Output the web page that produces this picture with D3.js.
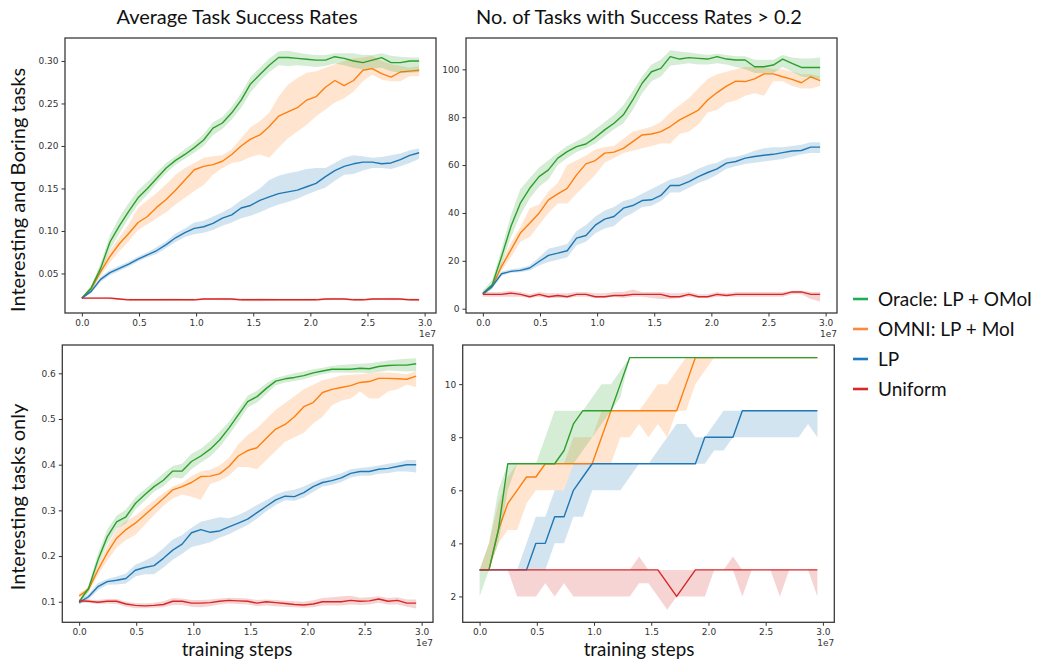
<!DOCTYPE html>
<html><head><meta charset="utf-8">
<script src="https://cdn.jsdelivr.net/npm/d3@7"></script>
<style>body{margin:0;background:#fff;} svg{display:block;}</style>
</head><body><svg id="c" width="1039" height="660"></svg>
<script>
// ---------- DATA ----------
const steps = [0,820000,1640000,2460000,3280000,4100000,4920000,5740000,6560000,7380000,8200000,9020000,9840000,10660000,11480000,12300000,13120000,13940000,14760000,15580000,16400000,17220000,18040000,18860000,19680000,20500000,21320000,22140000,22960000,23780000,24600000,25420000,26240000,27060000,27880000,28700000,29520000];
const seriesNames = ["Oracle: LP + OMoI","OMNI: LP + MoI","LP","Uniform"];
const seriesColors = ["#2ca02c","#ff7f0e","#1f77b4","#d62728"];
const legendColors = ["#1fae55","#fb8a3c","#1f7ac0","#d42a2a"];
const panelTitles = ["Average Task Success Rates","No. of Tasks with Success Rates > 0.2"];
const rowLabels = ["Interesting and Boring tasks","Interesting tasks only"];
const xLabel = "training steps";
const xTickValues = [0,5000000,10000000,15000000,20000000,25000000,30000000];
const xTickLabels = ["0.0","0.5","1.0","1.5","2.0","2.5","3.0"];
const xOffsetLabel = "1e7";

// Top-left: average success rate, interesting + boring tasks
const tlOracle   = [0.021,0.033,0.056,0.087,0.106,0.123,0.139,0.150,0.162,0.174,0.183,0.190,0.198,0.207,0.221,0.227,0.239,0.254,0.273,0.284,0.295,0.304,0.304,0.303,0.302,0.301,0.301,0.305,0.303,0.300,0.298,0.301,0.304,0.298,0.298,0.300,0.300];
const tlOracleLo = [0.020,0.030,0.050,0.078,0.097,0.115,0.131,0.143,0.156,0.168,0.178,0.185,0.192,0.200,0.213,0.220,0.231,0.245,0.263,0.276,0.287,0.295,0.294,0.295,0.294,0.293,0.294,0.297,0.295,0.292,0.290,0.291,0.292,0.288,0.286,0.286,0.287];
const tlOracleHi = [0.022,0.036,0.062,0.095,0.116,0.133,0.148,0.158,0.169,0.180,0.188,0.196,0.204,0.214,0.228,0.234,0.246,0.262,0.281,0.292,0.303,0.311,0.312,0.310,0.308,0.307,0.307,0.309,0.309,0.309,0.307,0.307,0.309,0.306,0.305,0.304,0.304];
const tlOmni     = [0.021,0.032,0.052,0.070,0.085,0.097,0.110,0.117,0.128,0.137,0.148,0.160,0.172,0.176,0.178,0.182,0.190,0.200,0.208,0.213,0.223,0.235,0.240,0.245,0.254,0.258,0.269,0.277,0.271,0.277,0.289,0.291,0.285,0.281,0.287,0.288,0.289];
const tlOmniLo   = [0.020,0.029,0.047,0.063,0.076,0.088,0.101,0.108,0.115,0.122,0.131,0.139,0.147,0.154,0.166,0.174,0.180,0.182,0.187,0.190,0.186,0.198,0.209,0.217,0.225,0.235,0.243,0.251,0.256,0.264,0.276,0.284,0.278,0.276,0.276,0.282,0.282];
const tlOmniHi   = [0.022,0.035,0.057,0.077,0.093,0.108,0.127,0.136,0.145,0.155,0.166,0.174,0.180,0.186,0.188,0.189,0.196,0.209,0.222,0.229,0.239,0.258,0.272,0.280,0.286,0.288,0.292,0.296,0.300,0.303,0.304,0.306,0.300,0.296,0.294,0.292,0.294];
const tlLP       = [0.021,0.029,0.043,0.051,0.056,0.061,0.067,0.072,0.077,0.084,0.092,0.098,0.103,0.105,0.109,0.115,0.119,0.127,0.130,0.136,0.140,0.144,0.146,0.148,0.152,0.156,0.164,0.171,0.176,0.179,0.181,0.181,0.179,0.180,0.184,0.189,0.192];
const tlLPLo     = [0.020,0.027,0.040,0.048,0.053,0.058,0.064,0.069,0.073,0.080,0.087,0.093,0.096,0.098,0.101,0.106,0.110,0.115,0.118,0.122,0.127,0.131,0.134,0.138,0.143,0.147,0.151,0.159,0.166,0.167,0.171,0.174,0.174,0.173,0.176,0.180,0.185];
const tlLPHi     = [0.022,0.031,0.046,0.054,0.059,0.064,0.070,0.075,0.081,0.088,0.097,0.103,0.110,0.112,0.117,0.122,0.128,0.136,0.143,0.150,0.160,0.165,0.168,0.170,0.173,0.174,0.174,0.180,0.186,0.189,0.188,0.186,0.187,0.189,0.191,0.195,0.197];
const tlUni      = [0.021,0.021,0.021,0.021,0.020,0.019,0.019,0.019,0.019,0.019,0.019,0.019,0.019,0.020,0.020,0.020,0.020,0.019,0.019,0.019,0.019,0.019,0.019,0.019,0.019,0.019,0.020,0.020,0.020,0.019,0.019,0.020,0.020,0.020,0.020,0.019,0.019];
const tlUniLo    = [0.0200,0.0200,0.0200,0.0198,0.0188,0.0178,0.0178,0.0178,0.0178,0.0178,0.0178,0.0178,0.0178,0.0188,0.0188,0.0185,0.0185,0.0175,0.0172,0.0172,0.0175,0.0178,0.0178,0.0178,0.0178,0.0178,0.0185,0.0188,0.0188,0.0178,0.0178,0.0185,0.0188,0.0185,0.0185,0.0175,0.0172];
const tlUniHi    = [0.0220,0.0220,0.0220,0.0222,0.0212,0.0202,0.0202,0.0202,0.0202,0.0205,0.0205,0.0202,0.0202,0.0212,0.0212,0.0215,0.0212,0.0205,0.0205,0.0208,0.0205,0.0202,0.0202,0.0202,0.0202,0.0205,0.0212,0.0215,0.0215,0.0205,0.0205,0.0212,0.0212,0.0215,0.0212,0.0205,0.0205];

// Top-right: number of tasks with success > 0.2, interesting + boring
const trOracle   = [6.3,10,21.8,34.4,44.1,50.3,55.2,58,62.9,65.6,67.7,68.8,71.5,74.7,77.5,81,87.2,94.2,99,100.4,105.3,104.3,104.9,104.6,104.3,105.3,104.3,103.9,103.9,101.1,101.1,101.8,104.3,102.5,100.8,100.8,100.8];
const trOracleLo = [5.5,8.5,18.5,30,39,46,51,54,60,63,65.5,67,69,72,75,77.5,83,90,95,97,101.5,102,102.5,102,102,102.5,102,101,100,98.5,98.5,98.5,101,99,97,96.5,96];
const trOracleHi = [7.5,12,25,39,50,54.5,59,62,65,68,70,72,75,78,81,85,91,97,102,104,108,107.5,107,106.5,106,106.5,106,105.5,105.5,104,104,104,106,105,104.5,104.5,105];
const trOmni     = [6.3,9.3,17.7,24.6,31.6,35.7,39.9,45.5,48,50.3,55.9,60.5,61.9,65,65.4,67,69.8,72.6,73,74,76.1,78.9,80.9,83,87.2,90.3,93,95.1,94.9,96,98.1,98.1,96.9,95.8,94.4,96.9,95.3];
const trOmniLo   = [5.5,8.5,16,21.5,28,30,35,40,44,44,48,52,56,61,63,65,66,67,68,69,69,73,74,77,82,83,86,87,89,90,89,95,95,93,92,92,93];
const trOmniHi   = [7,10,19.5,27.5,34,42,43.5,49,52.5,60,62,64,66.5,67.5,68,71,74,75,76,78,82,85,88,92,96,98,99,100,101,101,101,100,100,99,98,98,97];
const trLP       = [6.3,9.3,14.6,15.6,16,17,19.7,22.3,23.2,24.2,29.5,30.6,34.9,37.4,38.5,42,43.1,45.2,45.5,47.3,51.5,51.5,53.1,55.2,56.9,58.4,60.8,61.5,62.9,63.6,64.1,64.5,65.2,65.9,66.1,67.5,67.5];
const trLPLo     = [5.5,8.3,13.8,15,15.2,16,18,19.5,20.5,21.5,26.5,28,31.5,33.5,34.5,38,40,42.5,43,45,48.5,48.5,50.5,52.5,54,56,58.5,59.5,60.5,61,61.5,62,62.5,63.5,64.5,65,65];
const trLPHi     = [7,10.5,15.5,16.5,17,18,21.5,25,26,27,32.5,35,38.5,41,42.5,45,46,48,50,52,54,55,56.5,58.5,60,61,63,63.5,64.5,66,67,67.5,67.5,68,68.5,69.5,69.5];
const trUni      = [6,6,6,6.5,6,5,6,5,5.5,5,6,6,5,5,5.5,5.5,6,6,6,6,5,5,6,5,5,6,5.5,6,6,6,6,6,6,7,7,6,6];
const trUniLo    = [5,5,5,5,5,4.5,5,4.5,4.5,4.5,5,5,4.5,4.5,5,4.5,5,5,4.5,4,4,4.5,5,4.5,4.5,5,5,5,5,5,5,5,5,6,6,4,3];
const trUniHi    = [7,7,7,7.5,7,6,7,6.5,6.5,6.5,7,7,6.5,6.5,7,7,8,7,7,7,6.5,6.5,7,6,6,7,6.5,7,7,7,7,7,7,7.5,7.5,7,7];

// Bottom-left: average success rate, interesting tasks only
const blOracle   = [0.100,0.129,0.191,0.242,0.275,0.286,0.315,0.334,0.352,0.366,0.386,0.386,0.407,0.419,0.434,0.454,0.480,0.509,0.538,0.549,0.567,0.583,0.588,0.591,0.595,0.601,0.605,0.609,0.609,0.609,0.611,0.610,0.615,0.617,0.618,0.618,0.621];
const blOracleLo = [0.095,0.121,0.178,0.226,0.260,0.271,0.302,0.321,0.341,0.353,0.372,0.370,0.390,0.405,0.418,0.438,0.465,0.494,0.525,0.536,0.555,0.574,0.580,0.583,0.587,0.593,0.598,0.602,0.602,0.601,0.602,0.600,0.603,0.606,0.605,0.604,0.605];
const blOracleHi = [0.105,0.135,0.205,0.258,0.288,0.302,0.328,0.346,0.363,0.381,0.397,0.402,0.424,0.435,0.452,0.472,0.494,0.522,0.551,0.562,0.578,0.590,0.595,0.600,0.604,0.609,0.612,0.616,0.618,0.620,0.621,0.622,0.625,0.628,0.630,0.632,0.633];
const blOmni     = [0.113,0.127,0.169,0.207,0.239,0.258,0.272,0.290,0.308,0.326,0.345,0.352,0.361,0.374,0.375,0.380,0.396,0.419,0.431,0.437,0.458,0.478,0.488,0.505,0.527,0.536,0.558,0.565,0.569,0.573,0.580,0.582,0.589,0.589,0.588,0.587,0.594];
const blOmniLo   = [0.108,0.120,0.158,0.190,0.218,0.235,0.246,0.268,0.290,0.310,0.326,0.335,0.330,0.323,0.358,0.365,0.376,0.395,0.395,0.390,0.410,0.430,0.450,0.460,0.470,0.490,0.505,0.530,0.540,0.545,0.560,0.545,0.545,0.560,0.565,0.575,0.570];
const blOmniHi   = [0.118,0.133,0.180,0.222,0.258,0.276,0.288,0.305,0.322,0.338,0.352,0.360,0.375,0.385,0.389,0.398,0.415,0.445,0.465,0.480,0.500,0.520,0.535,0.550,0.565,0.575,0.585,0.590,0.595,0.597,0.598,0.600,0.602,0.602,0.600,0.598,0.605];
const blLP       = [0.098,0.111,0.133,0.144,0.147,0.151,0.169,0.175,0.179,0.195,0.213,0.226,0.251,0.258,0.252,0.255,0.264,0.272,0.281,0.295,0.309,0.323,0.331,0.330,0.339,0.352,0.361,0.365,0.371,0.381,0.385,0.385,0.390,0.392,0.396,0.400,0.400];
const blLPLo     = [0.094,0.105,0.125,0.137,0.138,0.140,0.155,0.160,0.160,0.175,0.192,0.205,0.220,0.225,0.230,0.240,0.248,0.258,0.268,0.282,0.298,0.312,0.322,0.321,0.328,0.340,0.352,0.356,0.362,0.372,0.376,0.376,0.380,0.382,0.385,0.385,0.383];
const blLPHi     = [0.103,0.117,0.141,0.150,0.155,0.162,0.181,0.190,0.200,0.217,0.236,0.246,0.262,0.275,0.280,0.285,0.283,0.290,0.300,0.312,0.322,0.335,0.342,0.345,0.352,0.362,0.370,0.375,0.381,0.390,0.393,0.395,0.398,0.402,0.405,0.410,0.410];
const blUni      = [0.102,0.101,0.099,0.101,0.101,0.095,0.092,0.091,0.092,0.094,0.101,0.101,0.097,0.097,0.098,0.101,0.103,0.102,0.101,0.097,0.100,0.098,0.096,0.094,0.093,0.095,0.100,0.100,0.100,0.103,0.101,0.102,0.106,0.101,0.103,0.097,0.097];
const blUniLo    = [0.098,0.097,0.095,0.096,0.095,0.089,0.086,0.086,0.087,0.088,0.093,0.093,0.089,0.088,0.090,0.094,0.096,0.095,0.094,0.090,0.092,0.090,0.089,0.088,0.087,0.088,0.092,0.092,0.092,0.094,0.093,0.094,0.098,0.094,0.094,0.089,0.085];
const blUniHi    = [0.106,0.105,0.104,0.106,0.106,0.100,0.097,0.096,0.098,0.101,0.108,0.107,0.104,0.104,0.105,0.107,0.109,0.108,0.107,0.104,0.105,0.104,0.102,0.101,0.100,0.103,0.108,0.110,0.112,0.113,0.109,0.110,0.112,0.108,0.110,0.105,0.105];

// Bottom-right: number of tasks with success > 0.2, interesting tasks only
const brOracle   = [3,3,4.5,7,7,7,7,7,7,7.5,8.5,9,9,9,9,10,11,11,11,11,11,11,11,11,11,11,11,11,11,11,11,11,11,11,11,11,11];
const brOracleLo = [2,3,4,6,7,7,7,7,7,7,7,7.5,8,8.5,9,9.5,11,11,11,11,11,11,11,11,11,11,11,11,11,11,11,11,11,11,11,11,11];
const brOracleHi = [3,4,6,7,7,7,7,8,9,9,9,9,9.5,10,10,10.5,11,11,11,11,11,11,11,11,11,11,11,11,11,11,11,11,11,11,11,11,11];
const brOmni     = [3,3,4.5,5.5,6,6.5,6.5,7,7,7,7,7,7,8,9,9,9,9,9,9,9,9,10,11,11,11,11,11,11,11,11,11,11,11,11,11,11];
const brOmniLo   = [3,3,4,4.5,4.5,5.5,6,6,6,6,7,7,7,7,7,8,8,8.5,8,8.5,8,9,9,10,10.5,11,11,11,11,11,11,11,11,11,11,11,11];
const brOmniHi   = [3,4,5.5,6.5,7,7,7,7,7,7,8,8,8,9,9,9,9,9,9.5,10,10,10.5,11,11,11,11,11,11,11,11,11,11,11,11,11,11,11];
const brLP       = [3,3,3,3,3,3,4,4,5,5,6,6.5,7,7,7,7,7,7,7,7,7,7,7,7,8,8,8,8,9,9,9,9,9,9,9,9,9];
const brLPLo     = [3,3,3,3,3,3,3,3,4,4,5,5,6,6,6,6,6.5,7,7,7,7,7,7,7,7,7.5,7.5,8,8,8,8,8,8,8,8,8.5,8];
const brLPHi     = [3,3,3,3,3,4,5,5,6,6,7,7,7,7,7,7,7,7,7,7.5,8,8.5,8.5,8,8,8.5,9,9,9,9,9,9,9,9,9,9,9];
const brUni      = [3,3,3,3,3,3,3,3,3,3,3,3,3,3,3,3,3,3,3,3,2.5,2,2.5,3,3,3,3,3,3,3,3,3,3,3,3,3,3];
const brUniLo    = [3,3,3,3,2,2,2,2.5,2,2.5,2,2,2,2,2,2,2,2.5,2.5,2,1.5,2,2,2,2,3,3,3,2,3,3,3,2,3,3,3,2];
const brUniHi    = [3,3,3,3,3,3,3,3,3,3,3,3,3,3,3,3,3,3.5,3,3,3,3,3,3,3,3,3,3.5,3,3,3,3,3,3,3,3,3];

const tlYTicks = [0.05,0.10,0.15,0.20,0.25,0.30];
const trYTicks = [0,20,40,60,80,100];
const blYTicks = [0.1,0.2,0.3,0.4,0.5,0.6];
const brYTicks = [2,4,6,8,10];

// ---------- LAYOUT ----------
const svg = d3.select("#c");
const tickFont = "DejaVu Sans, sans-serif";
const textFont = "Lato, 'Open Sans', sans-serif";
const xDomain = [-1476000, 30996000];

const panels = [
  {left:65, right:436, top:38, bottom:313, yDomain:[0.0035,0.327], yTicks:tlYTicks, fmt:d3.format(".2f"),
   series:[[tlOracle,tlOracleLo,tlOracleHi],[tlOmni,tlOmniLo,tlOmniHi],[tlLP,tlLPLo,tlLPHi],[tlUni,tlUniLo,tlUniHi]]},
  {left:466, right:837, top:38, bottom:313, yDomain:[-1.8,113.1], yTicks:trYTicks, fmt:d3.format("d"),
   series:[[trOracle,trOracleLo,trOracleHi],[trOmni,trOmniLo,trOmniHi],[trLP,trLPLo,trLPHi],[trUni,trUniLo,trUniHi]]},
  {left:62.3, right:433, top:345, bottom:622.3, yDomain:[0.055,0.662], yTicks:blYTicks, fmt:d3.format(".1f"),
   series:[[blOracle,blOracleLo,blOracleHi],[blOmni,blOmniLo,blOmniHi],[blLP,blLPLo,blLPHi],[blUni,blUniLo,blUniHi]]},
  {left:462.7, right:834.3, top:345, bottom:622.3, yDomain:[1.025,11.475], yTicks:brYTicks, fmt:d3.format("d"),
   series:[[brOracle,brOracleLo,brOracleHi],[brOmni,brOmniLo,brOmniHi],[brLP,brLPLo,brLPHi],[brUni,brUniLo,brUniHi]]}
];
const drawOrder = [1,0,2,3];

panels.forEach((p, pi) => {
  const x = d3.scaleLinear().domain(xDomain).range([p.left, p.right]);
  const y = d3.scaleLinear().domain(p.yDomain).range([p.bottom, p.top]);
  const clipId = "clip" + pi;
  svg.append("clipPath").attr("id", clipId).append("rect")
    .attr("x", p.left).attr("y", p.top).attr("width", p.right - p.left).attr("height", p.bottom - p.top);
  const g = svg.append("g").attr("clip-path", `url(#${clipId})`);
  drawOrder.forEach(si => {
    const [mean, lo, hi] = p.series[si];
    const rows = steps.map((s, i) => ({s, m: mean[i], lo: lo[i], hi: hi[i]}));
    g.append("path").datum(rows)
      .attr("d", d3.area().x(d => x(d.s)).y0(d => y(d.lo)).y1(d => y(d.hi)))
      .attr("fill", seriesColors[si]).attr("fill-opacity", 0.2).attr("stroke", "none");
    g.append("path").datum(rows)
      .attr("d", d3.line().x(d => x(d.s)).y(d => y(d.m)))
      .attr("fill", "none").attr("stroke", seriesColors[si]).attr("stroke-width", 1.4)
      .attr("stroke-linejoin", "round");
  });
  // axes
  const xa = svg.append("g").attr("transform", `translate(0,${p.bottom})`)
    .call(d3.axisBottom(x).tickValues(xTickValues).tickFormat((d, i) => xTickLabels[i]).tickSizeOuter(0).tickSize(3.5).tickPadding(3));
  const ya = svg.append("g").attr("transform", `translate(${p.left},0)`)
    .call(d3.axisLeft(y).tickValues(p.yTicks).tickFormat(p.fmt).tickSizeOuter(0).tickSize(3.5).tickPadding(3));
  [xa, ya].forEach(a => {
    a.select(".domain").remove();
    a.selectAll(".tick line").attr("stroke", "#333").attr("stroke-width", 1);
    a.selectAll(".tick text").attr("fill", "#333").style("font-family", tickFont).style("font-size", "9px");
  });
  svg.append("rect").attr("x", p.left).attr("y", p.top)
    .attr("width", p.right - p.left).attr("height", p.bottom - p.top)
    .attr("fill", "none").attr("stroke", "#3a3a3a").attr("stroke-width", 1.3);
  svg.append("text").attr("x", p.right).attr("y", p.bottom + 23.5).attr("text-anchor", "end")
    .style("font-family", tickFont).style("font-size", "9px").attr("fill", "#333").text(xOffsetLabel);
});

// titles
[237, 639].forEach((cx, i) => {
  svg.append("text").attr("x", cx).attr("y", 24).attr("text-anchor", "middle")
    .style("font-family", textFont).style("font-size", "20px").attr("fill", "#111").text(panelTitles[i]);
});
// x labels
[237, 639].forEach(cx => {
  svg.append("text").attr("x", cx).attr("y", 655.9).attr("text-anchor", "middle")
    .style("font-family", textFont).style("font-size", "18.8px").attr("fill", "#111").text(xLabel);
});
// row labels
[190, 497].forEach((cy, i) => {
  svg.append("text").attr("transform", `translate(25,${cy}) rotate(-90)`).attr("text-anchor", "middle")
    .style("font-family", textFont).style("font-size", "20px").attr("fill", "#111").text(rowLabels[i]);
});
// legend
const lg = svg.append("g");
seriesNames.forEach((name, i) => {
  const yy = 299 + i * 30;
  lg.append("line").attr("x1", 853).attr("x2", 868).attr("y1", yy).attr("y2", yy)
    .attr("stroke", legendColors[i]).attr("stroke-width", 2.6);
  lg.append("text").attr("x", 878).attr("y", yy).attr("dy", "0.36em")
    .style("font-family", textFont).style("font-size", "19px").attr("fill", "#111").text(name);
});
</script>
</body></html>
